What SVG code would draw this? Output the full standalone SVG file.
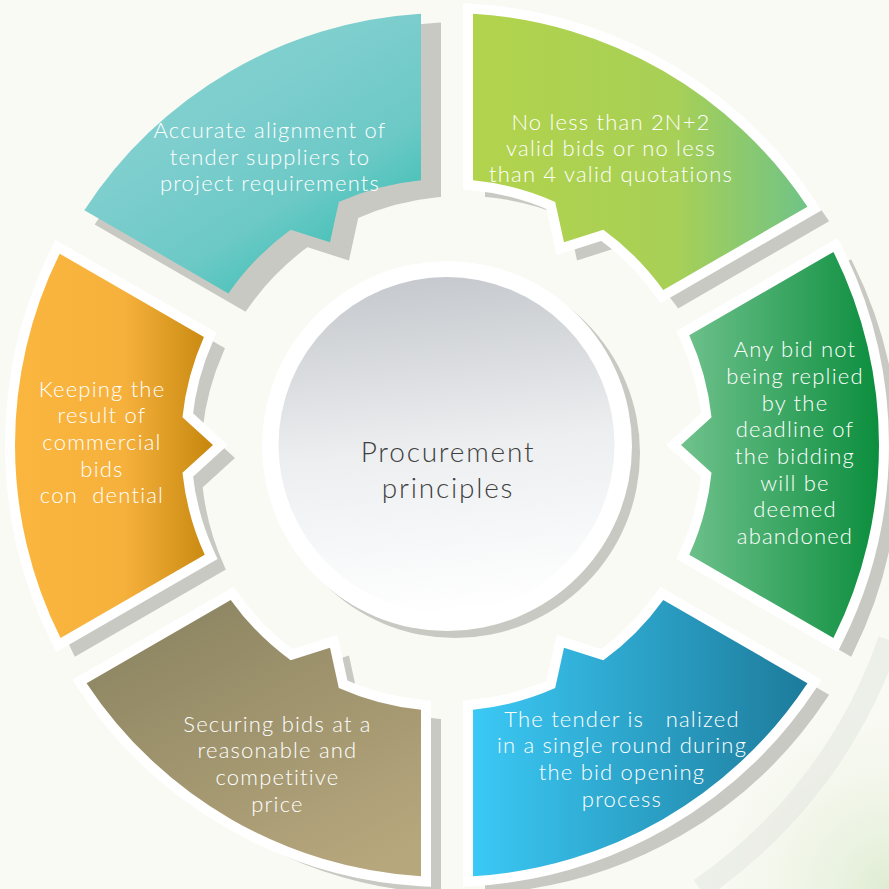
<svg xmlns="http://www.w3.org/2000/svg" xmlns:xlink="http://www.w3.org/1999/xlink" width="889" height="889" viewBox="0 0 889 889">
  <style>
    .shadow { fill: #c9c9c3; stroke: #c9c9c3; stroke-width: 8; stroke-linejoin: miter; }
    .seg { stroke: #ffffff; stroke-width: 20; paint-order: stroke; stroke-linejoin: miter; }
    .seg-plain { stroke: none; }
    .lbl { font-family: Lato, "Open Sans", "Liberation Sans", sans-serif; font-weight: 300; font-size: 22px; letter-spacing: 1.2px; fill: #ffffff; text-anchor: middle; white-space: pre; }
    .hub { font-family: Lato, "Open Sans", "Liberation Sans", sans-serif; font-weight: 300; font-size: 28px; letter-spacing: 1.8px; fill: #3f3f3f; text-anchor: middle; }
  </style>
  <defs>
    <linearGradient id="g-teal" x1="0.35" y1="0.35" x2="0.85" y2="1">
      <stop offset="0" stop-color="#80cfcf"/>
      <stop offset="0.5" stop-color="#6cc9c6"/>
      <stop offset="1" stop-color="#2cbbad"/>
    </linearGradient>
    <linearGradient id="g-lime" x1="0" y1="0" x2="1" y2="0">
      <stop offset="0" stop-color="#b2d34c"/>
      <stop offset="0.6" stop-color="#a8d056"/>
      <stop offset="1" stop-color="#70c386"/>
    </linearGradient>
    <linearGradient id="g-green" x1="0" y1="0" x2="1" y2="0">
      <stop offset="0" stop-color="#70c28d"/>
      <stop offset="1" stop-color="#0c8e3e"/>
    </linearGradient>
    <linearGradient id="g-blue" x1="0" y1="0" x2="1" y2="0">
      <stop offset="0" stop-color="#3bc9f5"/>
      <stop offset="1" stop-color="#1d7b9b"/>
    </linearGradient>
    <linearGradient id="g-brown" x1="0.2" y1="0" x2="0.8" y2="1">
      <stop offset="0" stop-color="#8b8461"/>
      <stop offset="1" stop-color="#b7a77d"/>
    </linearGradient>
    <linearGradient id="g-orange" x1="0" y1="0" x2="1" y2="0">
      <stop offset="0" stop-color="#fbb63f"/>
      <stop offset="0.55" stop-color="#f6b13c"/>
      <stop offset="1" stop-color="#c6870e"/>
    </linearGradient>
    <linearGradient id="g-hub" x1="0.45" y1="0" x2="0.55" y2="1">
      <stop offset="0" stop-color="#c6c9cd"/>
      <stop offset="0.5" stop-color="#eceef0"/>
      <stop offset="1" stop-color="#ffffff"/>
    </linearGradient>
    <radialGradient id="g-tint" cx="1" cy="1" r="0.5">
      <stop offset="0" stop-color="#dcebcf" stop-opacity="0.9"/>
      <stop offset="1" stop-color="#eef4e4" stop-opacity="0"/>
    </radialGradient>

    <!-- ring segments: outer arc r=432, inner arc r=266, inward notch tip r=234 -->
    <path id="p-teal" d="M 84.37 210.23 A 432 432 0 0 1 421 13.78 L 421 180.27 A 266 266 0 0 0 338.81 202 L 330 242.35 L 290.65 229.81 A 266 266 0 0 0 228.43 293.4 Z"/>
    <path id="p-lime" d="M 473 13.78 A 432 432 0 0 1 807.44 206.87 L 663.26 290.11 A 266 266 0 0 0 603.35 229.81 L 564 242.35 L 555.19 202 A 266 266 0 0 0 473 180.27 Z"/>
    <path id="p-green" d="M 833.44 251.91 A 432 432 0 0 1 833.44 638.09 L 689.26 554.85 A 266 266 0 0 0 711.54 472.8 L 681 445 L 711.54 417.2 A 266 266 0 0 0 689.26 335.15 Z"/>
    <path id="p-blue" d="M 807.44 683.13 A 432 432 0 0 1 473 876.22 L 473 709.73 A 266 266 0 0 0 555.19 688 L 564 647.65 L 603.35 660.19 A 266 266 0 0 0 663.26 599.89 Z"/>
    <path id="p-brown" d="M 421 876.22 A 432 432 0 0 1 86.56 683.13 L 230.74 599.89 A 266 266 0 0 0 290.65 660.19 L 330 647.65 L 338.81 688 A 266 266 0 0 0 421 709.73 Z"/>
    <path id="p-orange" d="M 60.56 638.09 A 432 432 0 0 1 59.68 253.7 L 203.93 336.99 A 266 266 0 0 0 182.46 417.2 L 213 445 L 182.46 472.8 A 266 266 0 0 0 204.74 554.85 Z"/>
  </defs>

  <!-- backdrop -->
  <rect x="0" y="0" width="889" height="889" fill="#f9faf4"/>
  <rect x="520" y="520" width="369" height="369" fill="url(#g-tint)"/>
  <path d="M 889 640 A 500 500 0 0 1 700 889" fill="none" stroke="#e4e6e0" stroke-width="22" opacity="0.55"/>

  <g id="node-accurate-alignment">
    <use xlink:href="#p-teal" href="#p-teal" class="shadow" transform="translate(16,13)"/>
    <use xlink:href="#p-teal" href="#p-teal" class="seg-plain" fill="url(#g-teal)"/>
    <text class="lbl" x="270" y="138">Accurate alignment of</text>
    <text class="lbl" x="270" y="164.5">tender suppliers to</text>
    <text class="lbl" x="270" y="191">project requirements</text>
  </g>

  <g id="node-valid-bids">
    <use xlink:href="#p-lime" href="#p-lime" class="shadow" transform="translate(16,13)"/>
    <use xlink:href="#p-lime" href="#p-lime" class="seg" fill="url(#g-lime)"/>
    <text class="lbl" x="611" y="129.5">No less than 2N+2</text>
    <text class="lbl" x="611" y="155.5">valid bids or no less</text>
    <text class="lbl" x="611" y="182">than 4 valid quotations</text>
  </g>

  <g id="node-deadline">
    <use xlink:href="#p-green" href="#p-green" class="shadow" transform="translate(16,13)"/>
    <use xlink:href="#p-green" href="#p-green" class="seg" fill="url(#g-green)"/>
    <text class="lbl" x="795" y="357.3">Any bid not</text>
    <text class="lbl" x="795" y="384">being replied</text>
    <text class="lbl" x="795" y="410.7">by the</text>
    <text class="lbl" x="795" y="437.3">deadline of</text>
    <text class="lbl" x="795" y="464">the bidding</text>
    <text class="lbl" x="795" y="490.7">will be</text>
    <text class="lbl" x="795" y="517.3">deemed</text>
    <text class="lbl" x="795" y="544">abandoned</text>
  </g>

  <g id="node-single-round">
    <use xlink:href="#p-blue" href="#p-blue" class="shadow" transform="translate(16,13)"/>
    <use xlink:href="#p-blue" href="#p-blue" class="seg" fill="url(#g-blue)"/>
    <text class="lbl" x="622" y="726.7">The tender is   nalized</text>
    <text class="lbl" x="622" y="753.3">in a single round during</text>
    <text class="lbl" x="622" y="780">the bid opening</text>
    <text class="lbl" x="622" y="806.7">process</text>
  </g>

  <g id="node-competitive-price">
    <use xlink:href="#p-brown" href="#p-brown" class="shadow" transform="translate(16,13)"/>
    <use xlink:href="#p-brown" href="#p-brown" class="seg" fill="url(#g-brown)"/>
    <text class="lbl" x="277.5" y="731.7">Securing bids at a</text>
    <text class="lbl" x="277.5" y="758.3">reasonable and</text>
    <text class="lbl" x="277.5" y="785">competitive</text>
    <text class="lbl" x="277.5" y="811.7">price</text>
  </g>

  <g id="node-confidential">
    <use xlink:href="#p-orange" href="#p-orange" class="shadow" transform="translate(16,13)"/>
    <use xlink:href="#p-orange" href="#p-orange" class="seg" fill="url(#g-orange)"/>
    <text class="lbl" x="102" y="396.7">Keeping the</text>
    <text class="lbl" x="102" y="423.3">result of</text>
    <text class="lbl" x="102" y="450">commercial</text>
    <text class="lbl" x="102" y="476.7">bids</text>
    <text class="lbl" x="102" y="503.3">con  dential</text>
  </g>

  <g id="node-procurement-principles">
    <circle cx="455" cy="453" r="185" fill="#c9c9c3"/>
    <circle cx="447" cy="446" r="185" fill="#ffffff"/>
    <circle cx="446.5" cy="445" r="168" fill="url(#g-hub)"/>
    <text class="hub" x="448" y="461.7">Procurement</text>
    <text class="hub" x="448" y="498.3">principles</text>
  </g>
</svg>
